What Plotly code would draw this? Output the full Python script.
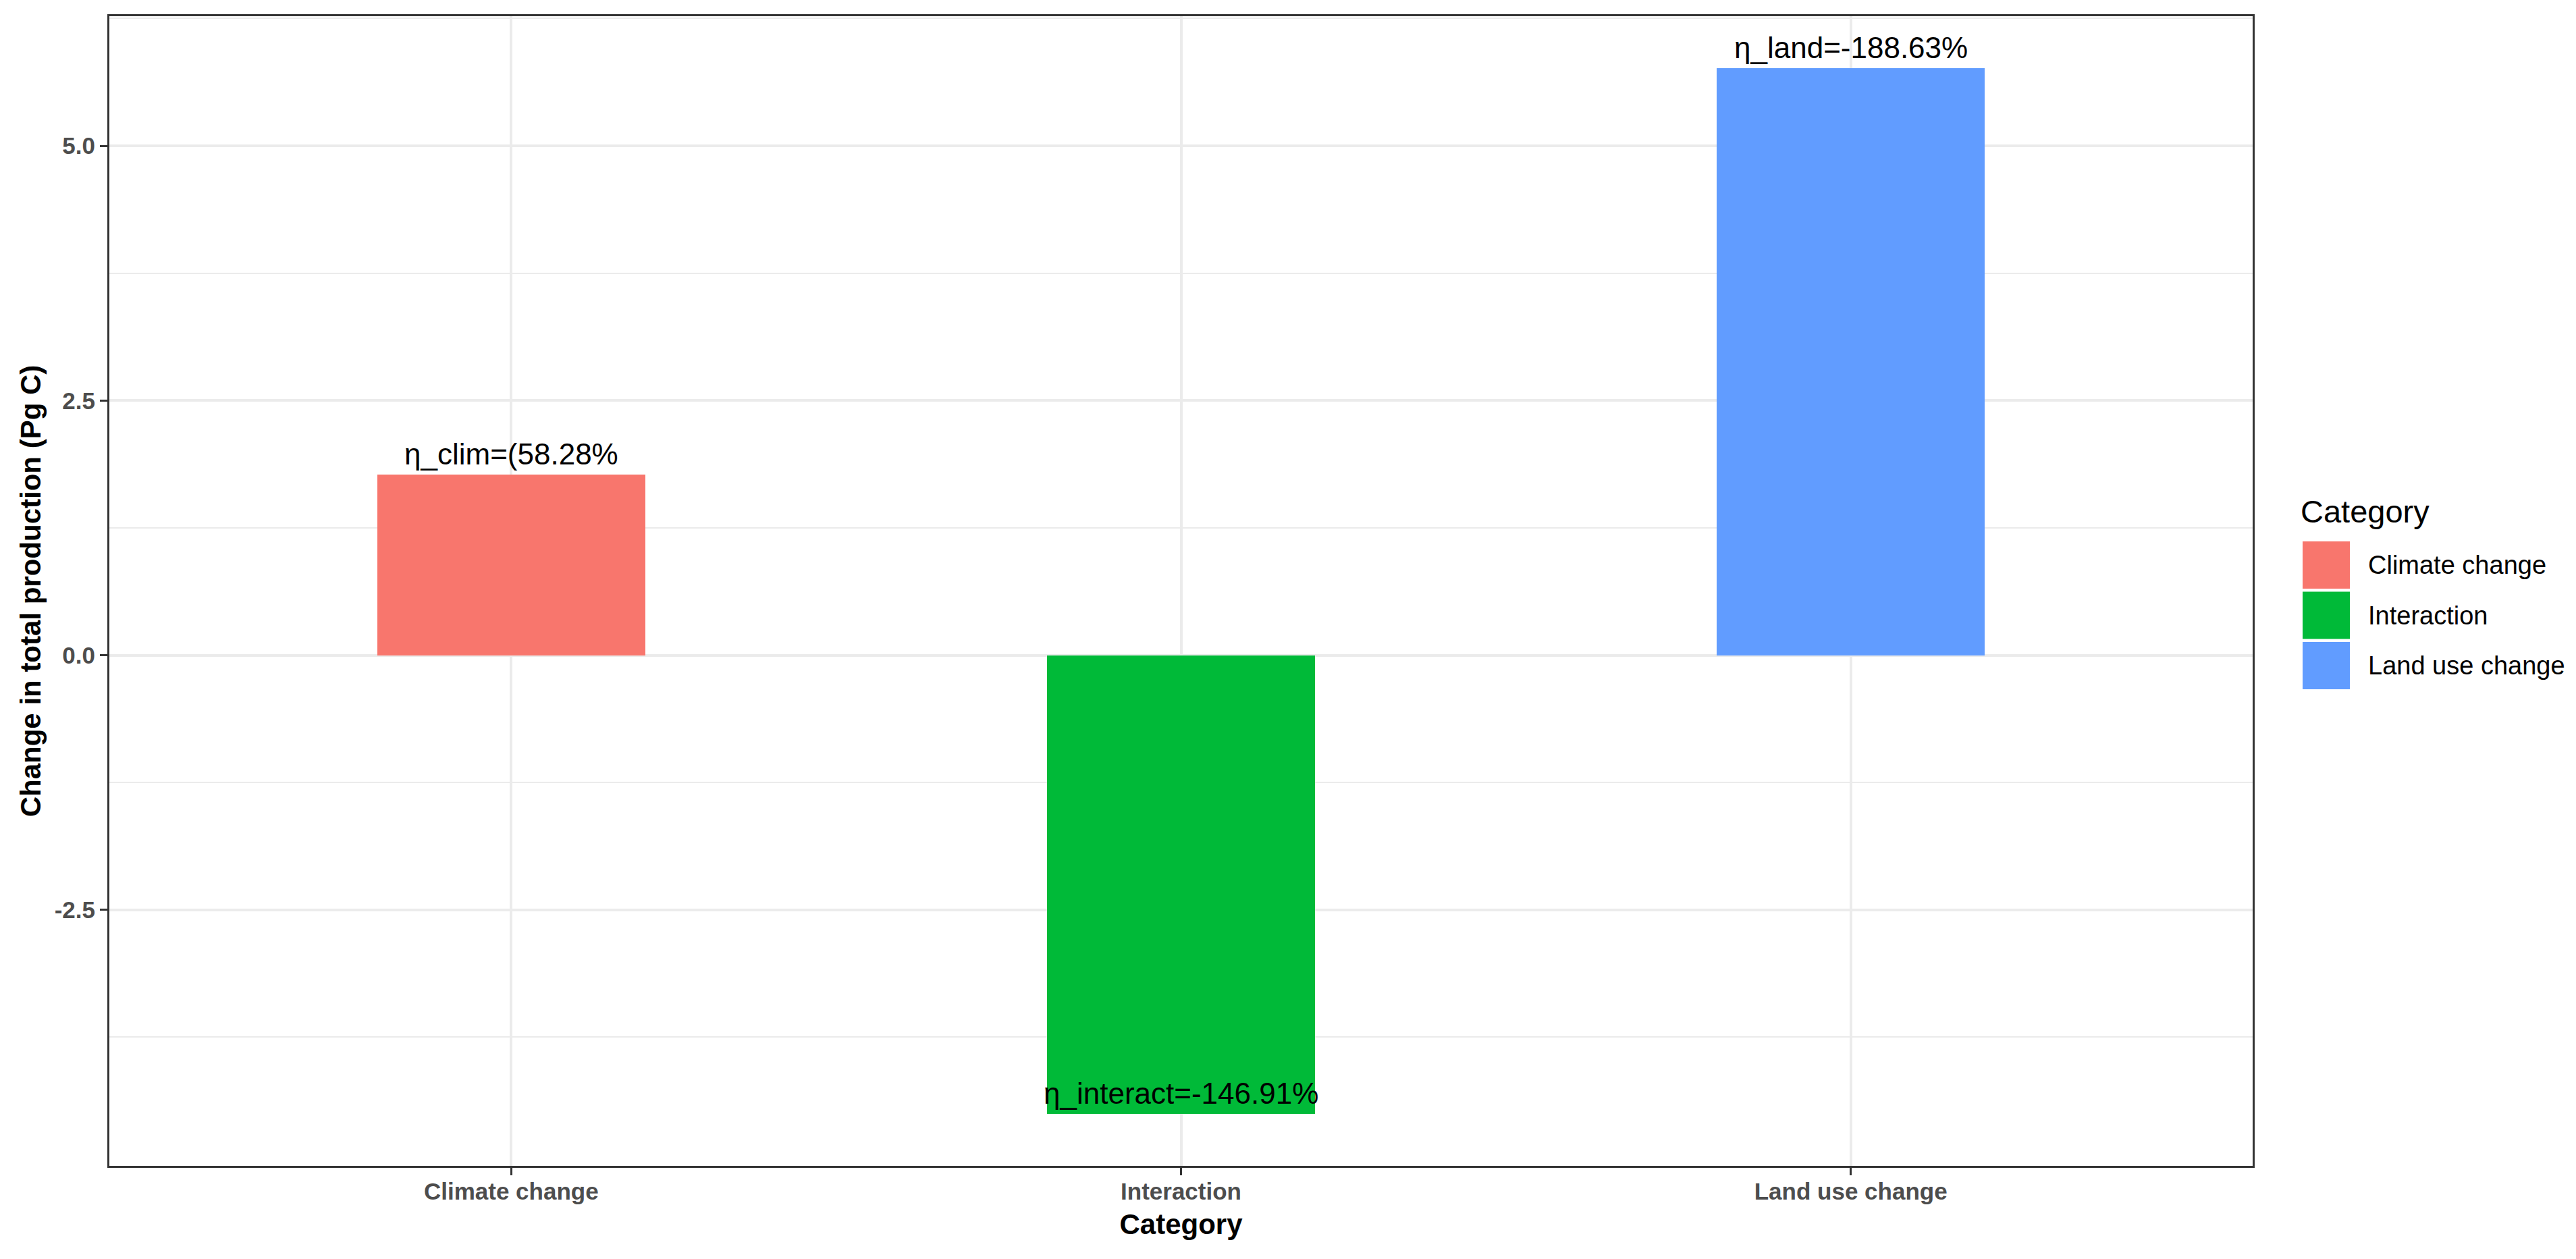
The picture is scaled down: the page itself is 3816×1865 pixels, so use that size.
import plotly.graph_objects as go

# ---- data ----
categories = ["Climate change", "Interaction", "Land use change"]
values = [1.77, -4.50, 5.76]
labels = ["η_clim=(58.28%", "η_interact=-146.91%", "η_land=-188.63%"]
colors = ["#F8766D", "#00BA38", "#619CFF"]
y_ticks = [-2.5, 0.0, 2.5, 5.0]
y_tick_text = ["-2.5", "0.0", "2.5", "5.0"]

# ---- layout constants (pixels, page coordinates) ----
PAGE_W, PAGE_H = 3816, 1865
OFF = 8  # browser body margin
W, H = PAGE_W - 2 * OFF, PAGE_H - 2 * OFF
PL, PR, PT, PB = 162, 3337, 24, 1727  # plot area edges on the page
L, R, T, B = PL - OFF, W - (PR - OFF), PT - OFF, H - (PB - OFF)
FONT = "Liberation Sans, Arial, sans-serif"

def px_x(px):
    return (px - PL) / (PR - PL)

def px_y(py):
    return (PB - py) / (PB - PT)

fig = go.Figure()
fig.add_trace(go.Bar(
    x=categories, y=values, marker=dict(color=colors, line=dict(width=0)),
    width=0.4, showlegend=False, hoverinfo="x+y",
))

# value labels (ggplot geom_text with vjust=-0.5 style)
for c, v, t in zip(categories, values, labels):
    fig.add_annotation(x=c, y=v, text=t, showarrow=False, xanchor="center",
                       yanchor="bottom", yshift=4,
                       font=dict(family=FONT, size=44, color="black"))

# manual legend (ggplot-like square keys)
key_x0, key_x1 = 3411, 3481
key_top0, key_pitch, key_h = 802, 74.5, 70
fig.add_annotation(xref="paper", yref="paper", x=px_x(3406), y=px_y(757),
                   xanchor="left", yanchor="middle", showarrow=False,
                   text="Category", font=dict(family=FONT, size=47, color="black"))
for i, (c, col) in enumerate(zip(categories, colors)):
    top = key_top0 + i * key_pitch
    fig.add_shape(type="rect", xref="paper", yref="paper",
                  x0=px_x(key_x0), x1=px_x(key_x1),
                  y0=px_y(top + key_h), y1=px_y(top),
                  fillcolor=col, line=dict(width=0), layer="above")
    fig.add_annotation(xref="paper", yref="paper", x=px_x(3506),
                       y=px_y(top + key_h / 2), xanchor="left", yanchor="middle",
                       showarrow=False, text=c,
                       font=dict(family=FONT, size=38, color="black"))

ymin = min(values) - 0.05 * (max(values) - min(values))
ymax = max(values) + 0.05 * (max(values) - min(values))

fig.update_layout(
    width=W, height=H,
    margin=dict(l=L, r=R, t=T, b=B, pad=0),
    paper_bgcolor="white", plot_bgcolor="white",
    bargap=0,
    font=dict(family=FONT),
    xaxis=dict(
        type="category", range=[-0.6, 2.6],
        showgrid=True, gridcolor="#EBEBEB", gridwidth=3.5,
        showline=True, mirror=True, linecolor="#333333", linewidth=3,
        ticks="outside", ticklen=11, tickwidth=3, tickcolor="#333333",
        ticklabelstandoff=-6,
        tickfont=dict(family=FONT, size=35, color="#4D4D4D", weight="bold"),
        title=dict(text="<b>Category</b>", standoff=16,
                   font=dict(family=FONT, size=42, color="black")),
        zeroline=False, automargin=False,
    ),
    yaxis=dict(
        range=[ymin, ymax],
        tickmode="array", tickvals=y_ticks, ticktext=y_tick_text,
        showgrid=True, gridcolor="#EBEBEB", gridwidth=3.5,
        minor=dict(tickmode="linear", tick0=1.25, dtick=2.5, showgrid=True,
                   gridcolor="#EBEBEB", gridwidth=2, ticks=""),
        showline=True, mirror=True, linecolor="#333333", linewidth=3,
        ticks="outside", ticklen=11, tickwidth=3, tickcolor="#333333",
        tickfont=dict(family=FONT, size=35, color="#4D4D4D", weight="bold"),
        title=dict(text="<b>Change in total production (Pg C)</b>", standoff=7,
                   font=dict(family=FONT, size=42, color="black")),
        zeroline=False, automargin=False,
    ),
)

fig.write_html("out.html")
